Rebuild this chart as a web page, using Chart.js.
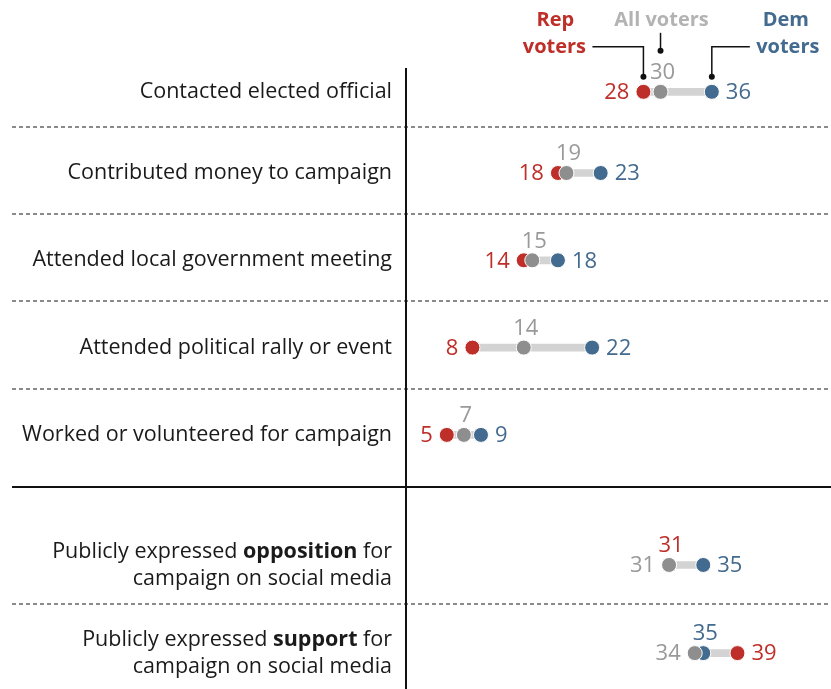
<!DOCTYPE html>
<html><head><meta charset="utf-8">
<script src="https://cdn.jsdelivr.net/npm/chart.js@4"></script>
<style>html,body{margin:0;padding:0;background:#fff}#wrap{width:831px;height:689px;position:relative}</style>
</head><body><div id="wrap"><canvas id="c" width="831" height="689"></canvas></div>
<script>
// ---- data ----
const categories = [
  "Contacted elected official",
  "Contributed money to campaign",
  "Attended local government meeting",
  "Attended political rally or event",
  "Worked or volunteered for campaign",
  "Publicly expressed **opposition** for|campaign on social media",
  "Publicly expressed **support** for|campaign on social media"
];
const repVoters = [28, 18, 14, 8, 5, 31, 39];
const allVoters = [30, 19, 15, 14, 7, 31, 34];
const demVoters = [36, 23, 18, 22, 9, 35, 35];
const seriesNames = ["All voters", "Rep voters", "Dem voters"];

// ---- layout (row positions on the y scale) ----
const rowPos = [0.07, 1, 2, 3, 4, 5.49, 6.5];
const dottedSeps = [0.473, 1.47, 2.466, 3.474, 5.94];
const solidSeps = [4.597];

const RED = "#be2f29", BLUE = "#436a8f", GREY = "#8e8e8e", GREYTXT = "#999999", LEGGREY = "#b3b3b3";
const FONT = "'Open Sans', 'Noto Sans', sans-serif";

const connectors = categories.map((c, i) => {
  const vals = [repVoters[i], allVoters[i], demVoters[i]];
  return { y: rowPos[i], x: [Math.min(...vals), Math.max(...vals)] };
});
const pts = arr => arr.map((v, i) => ({ x: v, y: rowPos[i] }));

const overlay = {
  id: 'overlay',
  beforeDatasetsDraw(chart) {
    const ctx = chart.ctx, ys = chart.scales.y, ca = chart.chartArea;
    ctx.save();
    ctx.strokeStyle = '#8a8a8a'; ctx.lineWidth = 2; ctx.setLineDash([4, 3]);
    dottedSeps.forEach(v => {
      const y = Math.round(ys.getPixelForValue(v));
      ctx.beginPath(); ctx.moveTo(12, y); ctx.lineTo(chart.width, y); ctx.stroke();
    });
    ctx.setLineDash([]);
    ctx.strokeStyle = '#111';
    solidSeps.forEach(v => {
      const y = Math.round(ys.getPixelForValue(v));
      ctx.beginPath(); ctx.moveTo(12, y); ctx.lineTo(chart.width, y); ctx.stroke();
    });
    ctx.beginPath(); ctx.moveTo(ca.left, ca.top); ctx.lineTo(ca.left, chart.height); ctx.stroke();
    ctx.fillStyle = '#1a1a1a'; ctx.textBaseline = 'middle';
    categories.forEach((c, i) => {
      const lines = c.split('|');
      const yc = ys.getPixelForValue(rowPos[i]);
      const lh = 27;
      lines.forEach((ln, k) => {
        const y = yc + (k - (lines.length - 1) / 2) * lh;
        const parts = ln.split('**');
        let w = 0;
        parts.forEach((p, j) => { ctx.font = (j % 2 ? 'bold ' : '') + '21.5px ' + FONT; w += ctx.measureText(p).width; });
        let x = ca.left - 14 - w;
        ctx.textAlign = 'left';
        parts.forEach((p, j) => { ctx.font = (j % 2 ? 'bold ' : '') + '21.5px ' + FONT; ctx.fillText(p, x, y); x += ctx.measureText(p).width; });
      });
    });
    ctx.restore();
  },
  afterDatasetsDraw(chart) {
    const ctx = chart.ctx;
    const metaAll = chart.getDatasetMeta(0), metaRep = chart.getDatasetMeta(1), metaDem = chart.getDatasetMeta(2);
    ctx.save();
    ctx.font = '22px ' + FONT; ctx.textBaseline = 'middle';
    categories.forEach((c, i) => {
      const items = [
        { v: allVoters[i], el: metaAll.data[i], col: GREYTXT },
        { v: repVoters[i], el: metaRep.data[i], col: RED },
        { v: demVoters[i], el: metaDem.data[i], col: BLUE }
      ];
      const sorted = items.slice().sort((a, b) => a.v - b.v);
      const [lo, mid, hi] = sorted;
      ctx.fillStyle = lo.col; ctx.textAlign = 'right';
      ctx.fillText(String(lo.v), lo.el.x - 14, lo.el.y + 1);
      ctx.fillStyle = hi.col; ctx.textAlign = 'left';
      ctx.fillText(String(hi.v), hi.el.x + 14, hi.el.y + 1);
      ctx.fillStyle = mid.col; ctx.textAlign = 'center';
      ctx.fillText(String(mid.v), mid.el.x + 2, mid.el.y - 19);
    });
    const pA = metaAll.data[0], pR = metaRep.data[0], pD = metaDem.data[0];
    ctx.font = 'bold 20px ' + FONT; ctx.textAlign = 'center';
    ctx.fillStyle = RED;
    ctx.fillText('Rep', pR.x - 88, pR.y - 72);
    ctx.fillText('voters', pR.x - 89, pR.y - 45);
    ctx.fillStyle = LEGGREY;
    ctx.fillText('All voters', pA.x + 1, pA.y - 72);
    ctx.fillStyle = BLUE;
    ctx.fillText('Dem', pD.x + 74, pD.y - 72);
    ctx.fillText('voters', pD.x + 76, pD.y - 45);
    ctx.strokeStyle = '#111'; ctx.fillStyle = '#111'; ctx.lineWidth = 1.5;
    ctx.beginPath(); ctx.moveTo(pR.x - 51, pR.y - 45); ctx.lineTo(pR.x, pR.y - 45); ctx.lineTo(pR.x, pR.y - 15); ctx.stroke();
    ctx.beginPath(); ctx.arc(pR.x, pR.y - 15, 3, 0, Math.PI * 2); ctx.fill();
    ctx.beginPath(); ctx.moveTo(pA.x, pA.y - 59); ctx.lineTo(pA.x, pA.y - 41); ctx.stroke();
    ctx.beginPath(); ctx.arc(pA.x, pA.y - 41, 3, 0, Math.PI * 2); ctx.fill();
    ctx.beginPath(); ctx.moveTo(pD.x + 38, pD.y - 45); ctx.lineTo(pD.x, pD.y - 45); ctx.lineTo(pD.x, pD.y - 15); ctx.stroke();
    ctx.beginPath(); ctx.arc(pD.x, pD.y - 15, 3, 0, Math.PI * 2); ctx.fill();
    ctx.restore();
  }
};

const dotStyle = col => ({ backgroundColor: col, borderColor: '#fff', borderWidth: 1, pointRadius: 7.5, pointHoverRadius: 7.5, pointBackgroundColor: col, pointBorderColor: '#fff', pointBorderWidth: 1 });

new Chart(document.getElementById('c'), {
  data: {
    datasets: [
      Object.assign({ type: 'scatter', label: seriesNames[0], data: pts(allVoters), order: 0 }, dotStyle(GREY)),
      Object.assign({ type: 'scatter', label: seriesNames[1], data: pts(repVoters), order: 1 }, dotStyle(RED)),
      Object.assign({ type: 'scatter', label: seriesNames[2], data: pts(demVoters), order: 2 }, dotStyle(BLUE)),
      { type: 'bar', label: 'range', indexAxis: 'y', data: connectors, order: 3, backgroundColor: '#d3d3d3', borderWidth: 0, barThickness: 7 }
    ]
  },
  options: {
    responsive: false, animation: false, devicePixelRatio: 1,
    layout: { autoPadding: false, padding: { left: 406, top: 68, right: 0, bottom: 0 } },
    plugins: { legend: { display: false }, tooltip: { enabled: false } },
    scales: {
      x: { type: 'linear', display: false, offset: false, min: 0.23, max: 49.94 },
      y: { type: 'linear', display: false, offset: false, reverse: true, min: -0.203, max: 6.911 }
    }
  },
  plugins: [overlay]
});
</script></body></html>
